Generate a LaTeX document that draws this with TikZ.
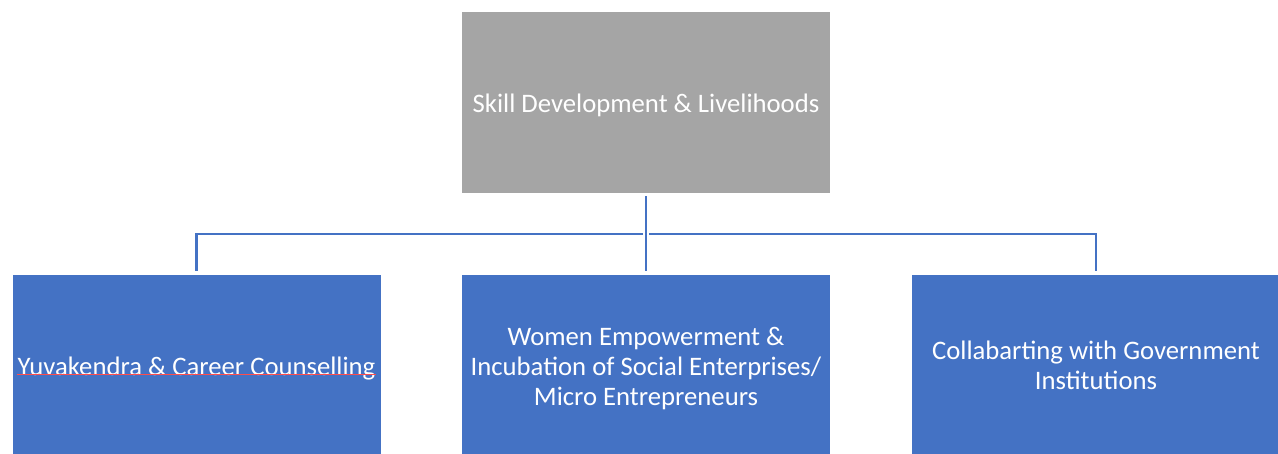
\documentclass[tikz,border=0pt]{standalone}
\usepackage{fontspec}
\setmainfont{Carlito}
\usetikzlibrary{positioning}
\definecolor{boxgray}{HTML}{A5A5A5}
\definecolor{boxblue}{HTML}{4472C4}
\tikzset{
  areabox/.style={draw=white,line width=0.8pt,fill=#1,text=white,
    minimum width=369pt,minimum height=182pt,align=center,
    font=\fontsize{26.7}{30}\selectfont,inner sep=0pt,
    execute at begin node={\rule{0pt}{26pt}}},
  branch/.style={draw=boxblue,line width=2.8pt,shorten <=3pt,shorten >=3pt}
}
\begin{document}
\begin{tikzpicture}[x=1pt,y=-1pt]
\useasboundingbox (0,0) rectangle (1278,453);

\node[areabox=boxgray] (skill) at (646,102) {Skill Development \& Livelihoods};
\node[areabox=boxblue] (yuva) at (196.5,365) {Yuvakendra \& Career Counselling};
\node[areabox=boxblue] (women) at (646,365)
  {\rule{0pt}{25pt}Women Empowerment \&\\Incubation of Social Enterprises/\\Micro Entrepreneurs};
\node[areabox=boxblue] (govt) at (1096,365) {Collabarting with Government\\Institutions};

\draw[branch] (skill.south) -- (women.north);
\draw[branch] (skill.south) ++(0,40.5) -| (yuva.north);
\draw[branch] (skill.south) ++(0,40.5) -| (govt.north);

% spell-check mark
\coordinate (wavy1) at (17,374.5);
\coordinate (wavy2) at (376,374.5);
\draw[red!70,line width=0.7pt] (wavy1) -- (wavy2);
\end{tikzpicture}
\end{document}
